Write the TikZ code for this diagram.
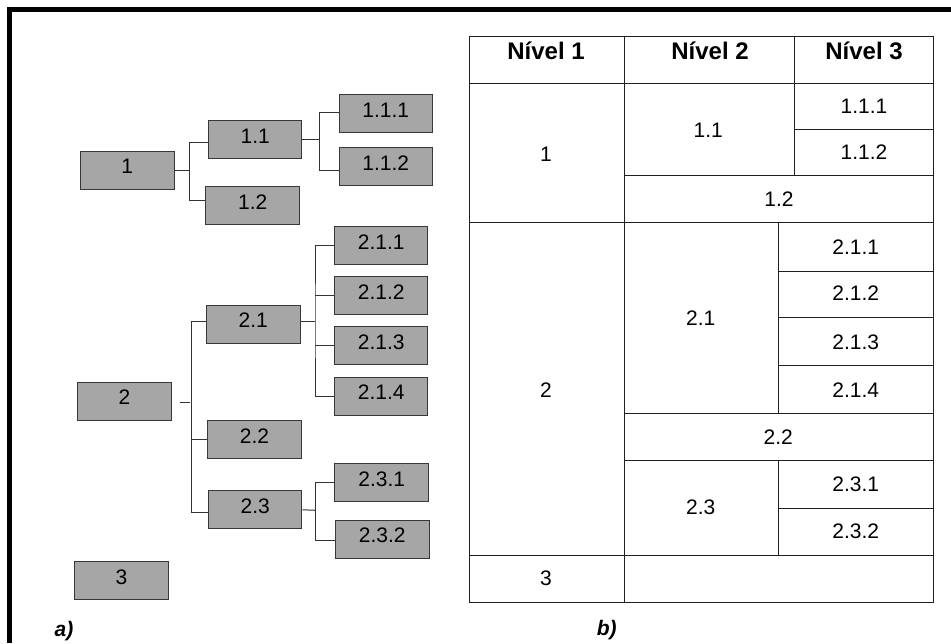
\documentclass[tikz,border=0pt]{standalone}
\usepackage{fontspec}
\setmainfont{Liberation Sans}
\begin{document}
\begin{tikzpicture}[x=1pt,y=-1pt,
  boxstyle/.style={draw=black!78,fill=boxgray,line width=1pt,minimum width=93.5pt,minimum height=38pt,
     inner sep=0pt,font=\fontsize{21}{24}\selectfont,text height=15pt,text depth=8pt},
  conn/.style={draw=black!80,line width=1pt},
  grid/.style={draw=black!88,line width=1pt},
  cell/.style={inner sep=0pt,font=\fontsize{21}{24}\selectfont},
  head/.style={inner sep=0pt,font=\fontsize{24}{28}\selectfont\bfseries,text height=17pt,text depth=0pt},
  tag/.style={inner sep=0pt,font=\fontsize{21}{24}\selectfont\bfseries\itshape}]
\definecolor{boxgray}{HTML}{A6A6A6}
\useasboundingbox (0,0) rectangle (951,643);
% outer frame
\draw[line width=4.5pt,line join=miter] (9.5,643) -- (9.5,9.5) -- (951,9.5);

% ---------- a) tree ----------
\node[boxstyle] (n1)   at (127.3,170.3) {1};
\node[boxstyle] (n11)  at (255.2,139.5) {1.1};
\node[boxstyle] (n111) at (385.8,113.5) {1.1.1};
\node[boxstyle] (n112) at (385.8,166.7) {1.1.2};
\node[boxstyle] (n12)  at (252.7,205.8) {1.2};
\node[boxstyle] (n2)   at (124.5,401)   {2};
\node[boxstyle] (n21)  at (253.3,324)   {2.1};
\node[boxstyle] (n211) at (381.2,245.5) {2.1.1};
\node[boxstyle] (n212) at (381.2,295.7) {2.1.2};
\node[boxstyle] (n213) at (381.2,345.8) {2.1.3};
\node[boxstyle] (n214) at (381.2,396.3) {2.1.4};
\node[boxstyle] (n22)  at (254.5,439.8) {2.2};
\node[boxstyle] (n23)  at (255.2,509.8) {2.3};
\node[boxstyle] (n231) at (381.7,482.7) {2.3.1};
\node[boxstyle] (n232) at (382.3,539.3) {2.3.2};
\node[boxstyle] (n3)   at (121.5,580.8) {3};

% connectors
\coordinate (j1) at (189.3,170.3);
\draw[conn] (n1.east) -- (j1);
\draw[conn] ([yshift=-3.2pt]n11.west) -| (j1) |- ([yshift=5pt]n12.west);

\coordinate (j11) at (319.3,139.5);
\draw[conn] (n11.east) -- (j11);
\draw[conn] ([yshift=1.5pt]n111.west) -| (j11) |- ([yshift=-3.3pt]n112.west);

\coordinate (j21) at (315,321);
\draw[conn] ([yshift=3pt]n21.east) -- (j21);
\draw[conn] (n211.west) -| (j21) |- (n214.west);
\draw[conn] (n212.west) -- (n212.west -| j21);
\draw[conn] (n213.west) -- (n213.west -| j21);

\coordinate (j2) at (191.7,402.7);
\draw[conn] ([xshift=8.3pt,yshift=-1.7pt]n2.east) -- ([xshift=-1.5pt]j2);
\draw[conn] ([yshift=3pt]n21.west) -| (j2) |- ([yshift=-2.5pt]n23.west);
\draw[conn] (n22.west) -- (n22.west -| j2);

\coordinate (j23) at (315.7,510.3);
\draw[conn] (n23.east) -- (j23);
\draw[conn] ([yshift=0.7pt]n231.west) -| (j23) |- ([yshift=-0.7pt]n232.west);

\node[tag] (ta) at (64,631) {a)};

% ---------- b) table ----------
\draw[grid] (469.3,36) rectangle (933.3,602.7);
\draw[grid] (469.3,83) -- (933.3,83);
\draw[grid] (794.7,129.3) -- (933.3,129.3);
\draw[grid] (624.7,175.3) -- (933.3,175.3);
\draw[grid] (469.3,222.7) -- (933.3,222.7);
\draw[grid] (778.3,271.3) -- (933.3,271.3);
\draw[grid] (778.3,317.3) -- (933.3,317.3);
\draw[grid] (778.3,365.7) -- (933.3,365.7);
\draw[grid] (624.7,413) -- (933.3,413);
\draw[grid] (624.7,460.3) -- (933.3,460.3);
\draw[grid] (778.3,508) -- (933.3,508);
\draw[grid] (469.3,555) -- (933.3,555);
\draw[grid] (624.7,36) -- (624.7,602.7);
\draw[grid] (794.7,36) -- (794.7,175.3);
\draw[grid] (778.3,222.7) -- (778.3,413);
\draw[grid] (778.3,460.3) -- (778.3,555);

\node[head] (h1) at (546,50.7) {Nível 1};
\node[head] (h2) at (710,50.7) {Nível 2};
\node[head] (h3) at (864,50.7) {Nível 3};

\node[cell] (t1)   at (546,154)     {1};
\node[cell] (t11)  at (708.3,130)   {1.1};
\node[cell] (t111) at (864,106)     {1.1.1};
\node[cell] (t112) at (864,152.3)   {1.1.2};
\node[cell] (t12)  at (779,199.3)   {1.2};
\node[cell] (t211) at (855.7,246.7) {2.1.1};
\node[cell] (t212) at (855.7,293.3) {2.1.2};
\node[cell] (t21)  at (700.7,318.3) {2.1};
\node[cell] (t213) at (855.7,342.7) {2.1.3};
\node[cell] (t214) at (855.7,390)   {2.1.4};
\node[cell] (t2)   at (546,390)     {2};
\node[cell] (t22)  at (778.3,436.7) {2.2};
\node[cell] (t23)  at (700.7,507.7) {2.3};
\node[cell] (t231) at (855.7,484)   {2.3.1};
\node[cell] (t232) at (855.7,531)   {2.3.2};
\node[cell] (t3)   at (546,578.3)   {3};

\node[tag] (tb) at (606.7,630) {b)};
\end{tikzpicture}
\end{document}
